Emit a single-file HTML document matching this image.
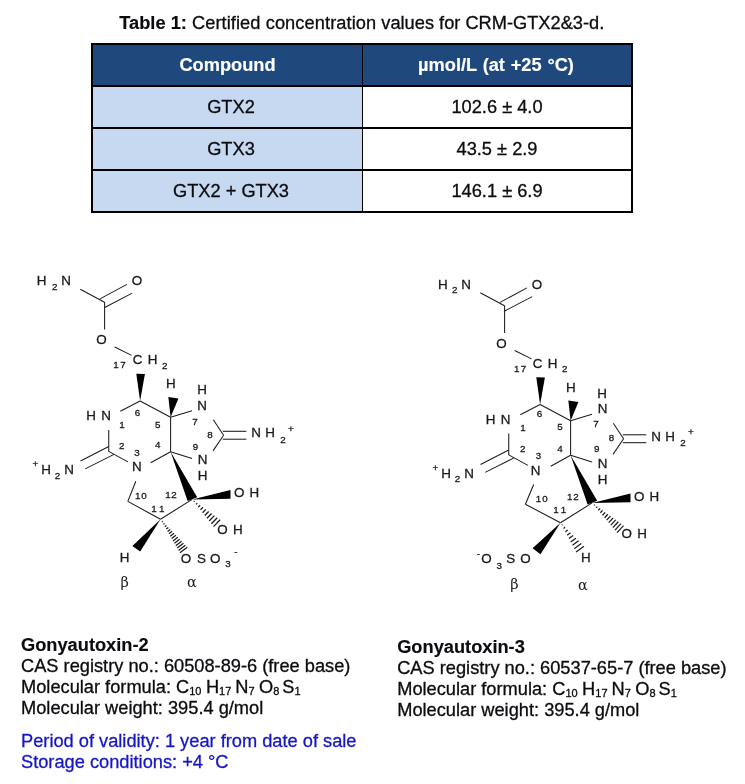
<!DOCTYPE html>
<html lang="en"><head><meta charset="utf-8"><title>CRM-GTX2&amp;3-d</title>
<style>
html,body{margin:0;padding:0;background:#fff}
body{will-change:transform;width:745px;height:784px;position:relative;overflow:hidden;font-family:"Liberation Sans",sans-serif;font-size:18.24px;color:#0c0c10;-webkit-text-stroke:0.3px currentColor}
.t{position:absolute;white-space:nowrap;line-height:20px;height:20px}
.b,b{font-weight:bold;-webkit-text-stroke:0.15px currentColor}
.blue{color:#1616c4}
.r{position:absolute;background:#000}
.c{position:absolute;text-align:center;white-space:nowrap;line-height:20px;height:20px}
sub{font-size:11px;vertical-align:baseline;position:relative;top:2px;line-height:0}
svg{position:absolute;left:0;top:0}
svg line{stroke:#1c1c1c;stroke-linecap:butt}
svg .w{fill:#000}
svg text{font-family:"Liberation Sans",sans-serif;text-anchor:middle;fill:#1a1a1a}
svg .a{font-size:13.4px;stroke:#1a1a1a;stroke-width:0.3px}
svg .s{font-size:9.8px;stroke:#1a1a1a;stroke-width:0.3px}
svg .g{font-family:"DejaVu Serif","Liberation Serif",serif;font-size:14.5px;stroke:none}
</style></head>
<body>
<div class="t " style="left:119.3px;top:12.67px"><b>Table 1:</b> <span style="letter-spacing:0.08px">Certified concentration</span> values for CRM-GTX2&amp;3-d.</div>
<div class="r" style="left:92px;top:44px;width:270px;height:42px;background:#1f497d"></div>
<div class="r" style="left:362px;top:44px;width:270px;height:42px;background:#1f497d"></div>
<div class="r" style="left:92px;top:86px;width:270px;height:126px;background:#c6d9f1"></div>
<div class="r" style="left:91.3px;top:43.1px;width:541.7px;height:1.8px;background:#000"></div>
<div class="r" style="left:91px;top:211px;width:542px;height:2px;background:#000"></div>
<div class="r" style="left:91.3px;top:43.1px;width:1.7px;height:170px;background:#000"></div>
<div class="r" style="left:631px;top:43px;width:2px;height:170px;background:#000"></div>
<div class="r" style="left:361.5px;top:43px;width:1.5px;height:170px;background:#000"></div>
<div class="r" style="left:91px;top:84.5px;width:542px;height:2px;background:#000"></div>
<div class="r" style="left:91px;top:126.5px;width:542px;height:2px;background:#000"></div>
<div class="r" style="left:91px;top:169.2px;width:542px;height:2px;background:#000"></div>
<div class="c b" style="left:93px;width:269px;top:55.27px;color:#fff">Compound</div>
<div class="c b" style="left:362px;width:268px;top:55.27px;color:#fff"><span style="word-spacing:0.7px">µmol/L (at +25 °C)</span></div>
<div class="c " style="left:100px;width:262px;top:97.27px">GTX2</div>
<div class="c " style="left:363px;width:268px;top:97.27px">102.6 ± 4.0</div>
<div class="c " style="left:100px;width:262px;top:139.27px">GTX3</div>
<div class="c " style="left:363px;width:268px;top:139.27px">43.5 ± 2.9</div>
<div class="c " style="left:100px;width:262px;top:181.27px">GTX2 + GTX3</div>
<div class="c " style="left:363px;width:268px;top:181.27px">146.1 ± 6.9</div>
<svg width="745" height="784" viewBox="0 0 745 784"><g><line x1="80.30" y1="289.20" x2="104.50" y2="302.20" stroke-width="1.05"/><line x1="100.00" y1="298.90" x2="126.90" y2="284.40" stroke-width="1.05"/><line x1="104.70" y1="307.50" x2="132.20" y2="293.10" stroke-width="1.05"/><line x1="104.60" y1="302.00" x2="104.60" y2="329.50" stroke-width="1.05"/><line x1="114.70" y1="347.00" x2="131.60" y2="355.40" stroke-width="1.05"/><polygon class="w" points="140.10,401.00 144.90,373.88 136.30,373.72"/><line x1="140.10" y1="401.00" x2="120.30" y2="411.20" stroke-width="1.05"/><line x1="140.10" y1="401.00" x2="170.60" y2="417.30" stroke-width="1.05"/><polygon class="w" points="170.60,417.30 178.45,398.52 168.35,397.08"/><line x1="170.60" y1="417.30" x2="192.00" y2="410.70" stroke-width="1.05"/><line x1="170.60" y1="417.30" x2="170.60" y2="451.80" stroke-width="1.05"/><line x1="170.60" y1="451.80" x2="150.70" y2="462.70" stroke-width="1.05"/><line x1="170.60" y1="451.80" x2="192.00" y2="458.60" stroke-width="1.05"/><line x1="108.75" y1="430.10" x2="108.75" y2="451.40" stroke-width="1.05"/><line x1="108.75" y1="451.40" x2="127.90" y2="461.90" stroke-width="1.05"/><line x1="108.75" y1="446.50" x2="80.50" y2="461.00" stroke-width="1.05"/><line x1="114.00" y1="454.40" x2="85.20" y2="468.90" stroke-width="1.05"/><line x1="213.30" y1="419.80" x2="223.60" y2="435.30" stroke-width="1.05"/><line x1="223.60" y1="435.30" x2="213.00" y2="450.90" stroke-width="1.05"/><line x1="222.80" y1="431.30" x2="246.30" y2="431.30" stroke-width="1.05"/><line x1="222.80" y1="439.20" x2="246.30" y2="439.20" stroke-width="1.05"/><line x1="135.80" y1="481.30" x2="127.80" y2="501.40" stroke-width="1.05"/><line x1="127.80" y1="501.40" x2="160.50" y2="519.20" stroke-width="1.05"/><line x1="160.50" y1="519.20" x2="192.20" y2="499.40" stroke-width="1.05"/><polygon class="w" points="170.60,451.80 187.60,500.90 197.20,497.20"/><polygon class="w" points="192.20,499.40 230.50,490.00 230.50,498.70"/><line x1="193.82" y1="501.66" x2="194.52" y2="500.94" stroke-width="1.3"/><line x1="196.09" y1="504.35" x2="197.28" y2="503.12" stroke-width="1.3"/><line x1="198.27" y1="507.13" x2="200.13" y2="505.21" stroke-width="1.3"/><line x1="200.45" y1="509.91" x2="202.98" y2="507.30" stroke-width="1.3"/><line x1="202.63" y1="512.69" x2="205.82" y2="509.38" stroke-width="1.3"/><line x1="204.81" y1="515.47" x2="208.67" y2="511.47" stroke-width="1.3"/><line x1="206.99" y1="518.24" x2="211.52" y2="513.56" stroke-width="1.3"/><line x1="209.17" y1="521.02" x2="214.37" y2="515.65" stroke-width="1.3"/><line x1="211.35" y1="523.80" x2="217.22" y2="517.73" stroke-width="1.3"/><line x1="213.53" y1="526.58" x2="220.07" y2="519.82" stroke-width="1.3"/><text class="a" x="41.70" y="284.60">H</text><text class="s" x="54.80" y="289.70">2</text><text class="a" x="66.10" y="284.60">N</text><text class="a" x="136.90" y="284.90">O</text><text class="a" x="101.50" y="343.60">O</text><text class="a" x="137.50" y="363.80">C</text><text class="a" x="152.60" y="363.80">H</text><text class="s" x="164.70" y="368.60">2</text><text class="s" x="116.00" y="368.20">1</text><text class="s" x="122.90" y="368.20">7</text><text class="a" x="170.90" y="387.70">H</text><text class="a" x="202.20" y="393.70">H</text><text class="a" x="202.20" y="409.60">N</text><text class="a" x="91.15" y="419.60">H</text><text class="a" x="106.10" y="419.60">N</text><text class="a" x="136.80" y="470.60">N</text><text class="s" x="35.30" y="466.80">+</text><text class="a" x="46.20" y="473.50">H</text><text class="s" x="57.50" y="478.80">2</text><text class="a" x="69.10" y="473.50">N</text><text class="a" x="256.00" y="437.20">N</text><text class="a" x="270.10" y="437.20">H</text><text class="s" x="283.00" y="442.80">2</text><text class="s" x="290.75" y="432.30">+</text><text class="a" x="202.50" y="464.30">N</text><text class="a" x="202.50" y="480.20">H</text><text class="a" x="239.30" y="497.20">O</text><text class="a" x="254.40" y="497.20">H</text><text class="a" x="222.50" y="534.00">O</text><text class="a" x="237.80" y="534.00">H</text><text class="s" x="137.50" y="416.00">6</text><text class="s" x="122.10" y="428.40">1</text><text class="s" x="157.80" y="428.20">5</text><text class="s" x="195.00" y="425.20">7</text><text class="s" x="121.70" y="448.70">2</text><text class="s" x="136.90" y="455.80">3</text><text class="s" x="157.70" y="448.30">4</text><text class="s" x="195.40" y="449.70">9</text><text class="s" x="210.00" y="438.00">8</text><text class="s" x="137.80" y="498.80">1</text><text class="s" x="144.00" y="498.80">0</text><text class="s" x="167.90" y="498.00">1</text><text class="s" x="173.90" y="498.00">2</text><text class="s" x="154.10" y="512.00">1</text><text class="s" x="161.70" y="512.00">1</text><polygon class="w" points="160.50,519.20 132.40,546.00 140.20,551.50"/><line x1="161.95" y1="521.96" x2="162.75" y2="521.36" stroke-width="1.25"/><line x1="163.43" y1="524.26" x2="164.54" y2="523.43" stroke-width="1.25"/><line x1="164.80" y1="526.63" x2="166.43" y2="525.41" stroke-width="1.25"/><line x1="166.18" y1="529.01" x2="168.33" y2="527.40" stroke-width="1.25"/><line x1="167.55" y1="531.38" x2="170.22" y2="529.38" stroke-width="1.25"/><line x1="168.93" y1="533.76" x2="172.12" y2="531.37" stroke-width="1.25"/><line x1="170.30" y1="536.13" x2="174.01" y2="533.35" stroke-width="1.25"/><line x1="171.67" y1="538.51" x2="175.91" y2="535.33" stroke-width="1.25"/><line x1="173.05" y1="540.88" x2="177.80" y2="537.32" stroke-width="1.25"/><line x1="174.42" y1="543.26" x2="179.70" y2="539.30" stroke-width="1.25"/><line x1="175.80" y1="545.63" x2="181.59" y2="541.29" stroke-width="1.25"/><line x1="177.17" y1="548.01" x2="183.49" y2="543.27" stroke-width="1.25"/><line x1="178.55" y1="550.38" x2="185.38" y2="545.26" stroke-width="1.25"/><line x1="179.92" y1="552.76" x2="187.28" y2="547.24" stroke-width="1.25"/><text class="a" x="124.70" y="562.00">H</text><text class="a" x="186.00" y="562.50">O</text><text class="a" x="201.50" y="562.50">S</text><text class="a" x="215.20" y="562.50">O</text><text class="s" x="228.00" y="567.40">3</text><text class="s" x="236.00" y="554.60">-</text><text class="g" x="124.70" y="587.00">β</text><text class="g" x="192.00" y="587.20">α</text></g><g transform="translate(400,3.5)"><line x1="80.30" y1="289.20" x2="104.50" y2="302.20" stroke-width="1.05"/><line x1="100.00" y1="298.90" x2="126.90" y2="284.40" stroke-width="1.05"/><line x1="104.70" y1="307.50" x2="132.20" y2="293.10" stroke-width="1.05"/><line x1="104.60" y1="302.00" x2="104.60" y2="329.50" stroke-width="1.05"/><line x1="114.70" y1="347.00" x2="131.60" y2="355.40" stroke-width="1.05"/><polygon class="w" points="140.10,401.00 144.90,373.88 136.30,373.72"/><line x1="140.10" y1="401.00" x2="120.30" y2="411.20" stroke-width="1.05"/><line x1="140.10" y1="401.00" x2="170.60" y2="417.30" stroke-width="1.05"/><polygon class="w" points="170.60,417.30 178.45,398.52 168.35,397.08"/><line x1="170.60" y1="417.30" x2="192.00" y2="410.70" stroke-width="1.05"/><line x1="170.60" y1="417.30" x2="170.60" y2="451.80" stroke-width="1.05"/><line x1="170.60" y1="451.80" x2="150.70" y2="462.70" stroke-width="1.05"/><line x1="170.60" y1="451.80" x2="192.00" y2="458.60" stroke-width="1.05"/><line x1="108.75" y1="430.10" x2="108.75" y2="451.40" stroke-width="1.05"/><line x1="108.75" y1="451.40" x2="127.90" y2="461.90" stroke-width="1.05"/><line x1="108.75" y1="446.50" x2="80.50" y2="461.00" stroke-width="1.05"/><line x1="114.00" y1="454.40" x2="85.20" y2="468.90" stroke-width="1.05"/><line x1="213.30" y1="419.80" x2="223.60" y2="435.30" stroke-width="1.05"/><line x1="223.60" y1="435.30" x2="213.00" y2="450.90" stroke-width="1.05"/><line x1="222.80" y1="431.30" x2="246.30" y2="431.30" stroke-width="1.05"/><line x1="222.80" y1="439.20" x2="246.30" y2="439.20" stroke-width="1.05"/><line x1="133.70" y1="481.00" x2="125.40" y2="500.80" stroke-width="1.05"/><line x1="125.40" y1="500.80" x2="160.50" y2="519.20" stroke-width="1.05"/><line x1="160.50" y1="519.20" x2="192.20" y2="499.40" stroke-width="1.05"/><polygon class="w" points="170.60,451.80 187.60,500.90 197.20,497.20"/><polygon class="w" points="192.20,499.40 230.50,490.00 230.50,498.70"/><line x1="194.11" y1="501.86" x2="194.79" y2="501.13" stroke-width="1.25"/><line x1="196.26" y1="504.26" x2="197.33" y2="503.11" stroke-width="1.25"/><line x1="198.34" y1="506.75" x2="199.96" y2="505.01" stroke-width="1.25"/><line x1="200.42" y1="509.23" x2="202.58" y2="506.91" stroke-width="1.25"/><line x1="202.49" y1="511.72" x2="205.21" y2="508.81" stroke-width="1.25"/><line x1="204.57" y1="514.20" x2="207.83" y2="510.70" stroke-width="1.25"/><line x1="206.64" y1="516.69" x2="210.45" y2="512.60" stroke-width="1.25"/><line x1="208.72" y1="519.17" x2="213.08" y2="514.50" stroke-width="1.25"/><line x1="210.80" y1="521.66" x2="215.70" y2="516.40" stroke-width="1.25"/><line x1="212.87" y1="524.14" x2="218.33" y2="518.29" stroke-width="1.25"/><line x1="214.95" y1="526.63" x2="220.95" y2="520.19" stroke-width="1.25"/><line x1="217.03" y1="529.11" x2="223.57" y2="522.09" stroke-width="1.25"/><text class="a" x="42.90" y="285.10">H</text><text class="s" x="54.80" y="289.70">2</text><text class="a" x="66.10" y="285.10">N</text><text class="a" x="136.90" y="285.40">O</text><text class="a" x="101.50" y="344.10">O</text><text class="a" x="137.50" y="364.30">C</text><text class="a" x="152.60" y="364.30">H</text><text class="s" x="164.70" y="368.60">2</text><text class="s" x="116.70" y="368.20">1</text><text class="s" x="123.60" y="368.20">7</text><text class="a" x="170.90" y="388.20">H</text><text class="a" x="202.20" y="394.20">H</text><text class="a" x="202.70" y="409.50">N</text><text class="a" x="90.55" y="420.50">H</text><text class="a" x="105.50" y="420.50">N</text><text class="a" x="135.70" y="471.10">N</text><text class="s" x="35.30" y="467.80">+</text><text class="a" x="46.20" y="474.00">H</text><text class="s" x="57.50" y="478.80">2</text><text class="a" x="69.10" y="474.00">N</text><text class="a" x="256.00" y="437.70">N</text><text class="a" x="270.10" y="437.70">H</text><text class="s" x="283.00" y="442.80">2</text><text class="s" x="290.75" y="431.10">+</text><text class="a" x="202.50" y="464.80">N</text><text class="a" x="202.50" y="480.70">H</text><text class="a" x="239.30" y="497.70">O</text><text class="a" x="254.40" y="497.70">H</text><text class="a" x="226.70" y="534.50">O</text><text class="a" x="242.00" y="534.50">H</text><text class="s" x="139.60" y="413.70">6</text><text class="s" x="122.90" y="427.10">1</text><text class="s" x="160.00" y="426.60">5</text><text class="s" x="196.00" y="423.60">7</text><text class="s" x="122.70" y="448.30">2</text><text class="s" x="138.50" y="455.40">3</text><text class="s" x="160.10" y="448.00">4</text><text class="s" x="196.70" y="448.60">9</text><text class="s" x="211.60" y="437.00">8</text><text class="s" x="138.50" y="498.80">1</text><text class="s" x="144.90" y="498.80">0</text><text class="s" x="169.80" y="496.40">1</text><text class="s" x="176.00" y="496.40">2</text><text class="s" x="156.00" y="509.40">1</text><text class="s" x="163.60" y="509.40">1</text><polygon class="w" points="160.50,519.20 132.60,544.80 140.50,550.80"/><line x1="161.66" y1="521.62" x2="162.46" y2="521.02" stroke-width="1.25"/><line x1="163.53" y1="524.93" x2="165.07" y2="523.80" stroke-width="1.25"/><line x1="165.32" y1="528.32" x2="167.77" y2="526.51" stroke-width="1.25"/><line x1="167.11" y1="531.70" x2="170.46" y2="529.23" stroke-width="1.25"/><line x1="168.90" y1="535.08" x2="173.16" y2="531.94" stroke-width="1.25"/><line x1="170.69" y1="538.46" x2="175.86" y2="534.66" stroke-width="1.25"/><line x1="172.48" y1="541.84" x2="178.55" y2="537.37" stroke-width="1.25"/><line x1="174.26" y1="545.22" x2="181.25" y2="540.08" stroke-width="1.25"/><line x1="176.05" y1="548.60" x2="183.95" y2="542.80" stroke-width="1.25"/><text class="a" x="185.90" y="558.40">H</text><text class="s" x="78.50" y="553.60">-</text><text class="a" x="86.40" y="559.60">O</text><text class="s" x="99.30" y="565.00">3</text><text class="a" x="110.70" y="559.60">S</text><text class="a" x="125.50" y="559.60">O</text><text class="g" x="114.50" y="585.00">β</text><text class="g" x="183.00" y="586.00">α</text></g></svg>
<div class="t b" style="left:21.0px;top:634.57px">Gonyautoxin-2</div>
<div class="t " style="left:21.0px;top:655.67px">CAS registry no.: 60508-89-6 (free base)</div>
<div class="t " style="left:21.0px;top:676.67px">Molecular formula: C<sub>10</sub> <span style="margin-left:-0.65px">H</span><sub>17</sub> <span style="margin-left:-1.1px">N</span><sub>7</sub> <span style="margin-left:-0.65px">O</span><sub>8</sub> <span style="margin-left:-2.15px">S</span><sub>1</sub></div>
<div class="t " style="left:21.0px;top:697.57px">Molecular weight: 395.4 g/mol</div>
<div class="t blue" style="left:21.0px;top:730.67px">Period of validity: 1 year from date of sale</div>
<div class="t blue" style="left:21.0px;top:751.77px">Storage conditions: +4 °C</div>
<div class="t b" style="left:397.2px;top:637.07px">Gonyautoxin-3</div>
<div class="t " style="left:397.2px;top:658.07px">CAS registry no.: 60537-65-7 (free base)</div>
<div class="t " style="left:397.2px;top:679.17px">Molecular formula: C<sub>10</sub> <span style="margin-left:-0.65px">H</span><sub>17</sub> <span style="margin-left:-1.1px">N</span><sub>7</sub> <span style="margin-left:-0.65px">O</span><sub>8</sub> <span style="margin-left:-2.15px">S</span><sub>1</sub></div>
<div class="t " style="left:397.2px;top:700.07px">Molecular weight: 395.4 g/mol</div>
</body></html>
